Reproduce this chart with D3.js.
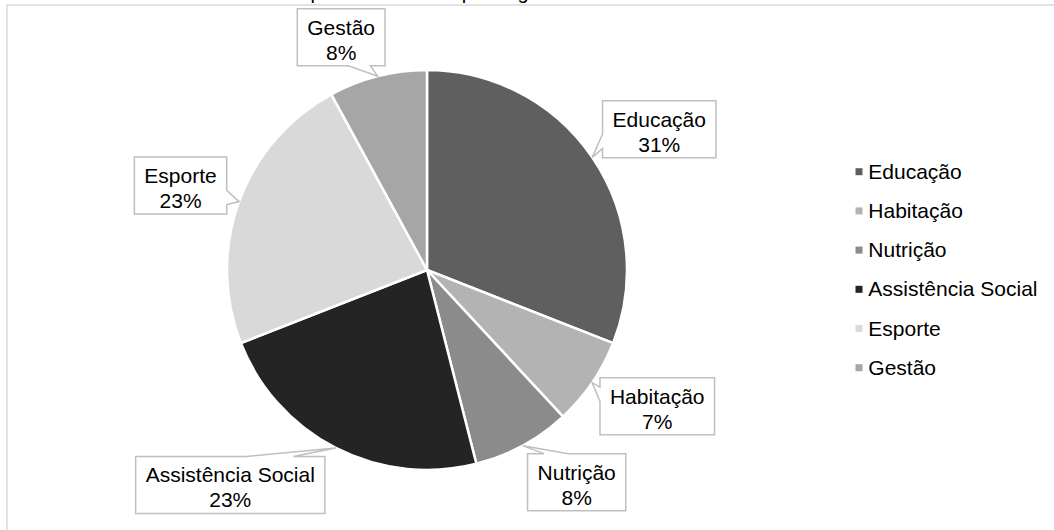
<!DOCTYPE html>
<html>
<head>
<meta charset="utf-8">
<script src="https://cdn.jsdelivr.net/npm/d3@7"></script>
<style>
  body { margin: 0; background: #fff; }
  svg { display: block; }
  text { font-family: "Liberation Sans", Arial, sans-serif; fill: #000; }
</style>
</head>
<body>
<svg id="chart" width="1054" height="530"></svg>
<script>
// Participants by programme area
const categories = ["Educação", "Habitação", "Nutrição", "Assistência Social", "Esporte", "Gestão"];
const counts = [39, 9, 10, 29, 29, 10];
const colors = ["#5f5f5f", "#b3b3b3", "#8b8b8b", "#242424", "#d9d9d9", "#a6a6a6"];
const titleText = "Total do público atendido por segmento";

const W = 1054, H = 530;
const svg = d3.select("#chart");

// chart frame
svg.append("rect")
  .attr("x", 7).attr("y", 5)
  .attr("width", W).attr("height", H)
  .attr("fill", "#fff")
  .attr("stroke", "#d9d9d9").attr("stroke-width", 1.5);

// title (sits above the frame)
svg.append("text")
  .attr("x", 235).attr("y", -1)
  .attr("font-size", 20)
  .text(titleText);

// pie
const cx = 427, cy = 270, R = 200;
const total = d3.sum(counts);
const pct = d3.format(".0%");
const pie = d3.pie().value(d => d).sort(null);
const arcs = pie(counts);
const arc = d3.arc().innerRadius(0).outerRadius(R);

const g = svg.append("g").attr("transform", `translate(${cx},${cy})`);
g.selectAll("path")
  .data(arcs)
  .join("path")
  .attr("d", arc)
  .attr("fill", (d, i) => colors[i])
  .attr("stroke", "#fff")
  .attr("stroke-width", 2.5)
  .attr("stroke-linejoin", "round");

// callout labels: box centre offset from the slice's rim point
const labelOffsets = [[67, -28], [65, 23.5], [54, 36.5], [-105.5, 37], [-58.5, -16], [-36.5, -39]];
const fontSize = 21, boxH = 57, padX = 10;

function calloutPath(x0, y0, w, h, tx, ty) {
  const mx = x0 + w / 2, my = y0 + h / 2;
  const dx = (tx - mx) / w, dy = (ty - my) / h;
  const x1 = x0 + w, y1 = y0 + h;
  let pts;
  if (Math.abs(dx) > Math.abs(dy)) {
    const f = ty < my ? [2 / 12, 5 / 12] : [7 / 12, 10 / 12];
    const ya = y0 + h * f[0], yb = y0 + h * f[1];
    if (dx < 0) pts = [[x0, y0], [x1, y0], [x1, y1], [x0, y1], [x0, yb], [tx, ty], [x0, ya]];
    else pts = [[x0, y0], [x1, y0], [x1, ya], [tx, ty], [x1, yb], [x1, y1], [x0, y1]];
  } else {
    const f = tx < mx ? [2 / 12, 5 / 12] : [7 / 12, 10 / 12];
    const xa = x0 + w * f[0], xb = x0 + w * f[1];
    if (dy < 0) pts = [[x0, y0], [xa, y0], [tx, ty], [xb, y0], [x1, y0], [x1, y1], [x0, y1]];
    else pts = [[x0, y0], [x1, y0], [x1, y1], [xb, y1], [tx, ty], [xa, y1], [x0, y1]];
  }
  return "M" + pts.map(p => p.join(",")).join("L") + "Z";
}

const labels = svg.append("g");
arcs.forEach((d, i) => {
  const mid = (d.startAngle + d.endAngle) / 2;
  const tx = cx + R * Math.sin(mid);
  const ty = cy - R * Math.cos(mid);
  const bx = tx + labelOffsets[i][0];
  const by = ty + labelOffsets[i][1];

  const grp = labels.append("g");
  const path = grp.append("path");
  const t1 = grp.append("text")
    .attr("x", bx).attr("y", by - boxH / 2 + 26)
    .attr("text-anchor", "middle").attr("font-size", fontSize)
    .text(categories[i]);
  const t2 = grp.append("text")
    .attr("x", bx).attr("y", by - boxH / 2 + 51)
    .attr("text-anchor", "middle").attr("font-size", fontSize)
    .text(pct(d.data / total));

  const w = Math.max(t1.node().getComputedTextLength(), t2.node().getComputedTextLength()) + padX * 2;
  path.attr("d", calloutPath(bx - w / 2, by - boxH / 2, w, boxH, tx, ty))
    .attr("fill", "#fff")
    .attr("stroke", "#bfbfbf")
    .attr("stroke-width", 1.5)
    .attr("stroke-linejoin", "miter");
});

// legend
const legend = svg.append("g").attr("transform", "translate(855.5,0)");
categories.forEach((c, i) => {
  const yc = 171.7 + i * 39.2;
  legend.append("rect")
    .attr("x", 0).attr("y", yc - 3.5)
    .attr("width", 7).attr("height", 7)
    .attr("fill", colors[i]);
  legend.append("text")
    .attr("x", 12.8).attr("y", yc + 7)
    .attr("font-size", fontSize)
    .text(c);
});
</script>
</body>
</html>
